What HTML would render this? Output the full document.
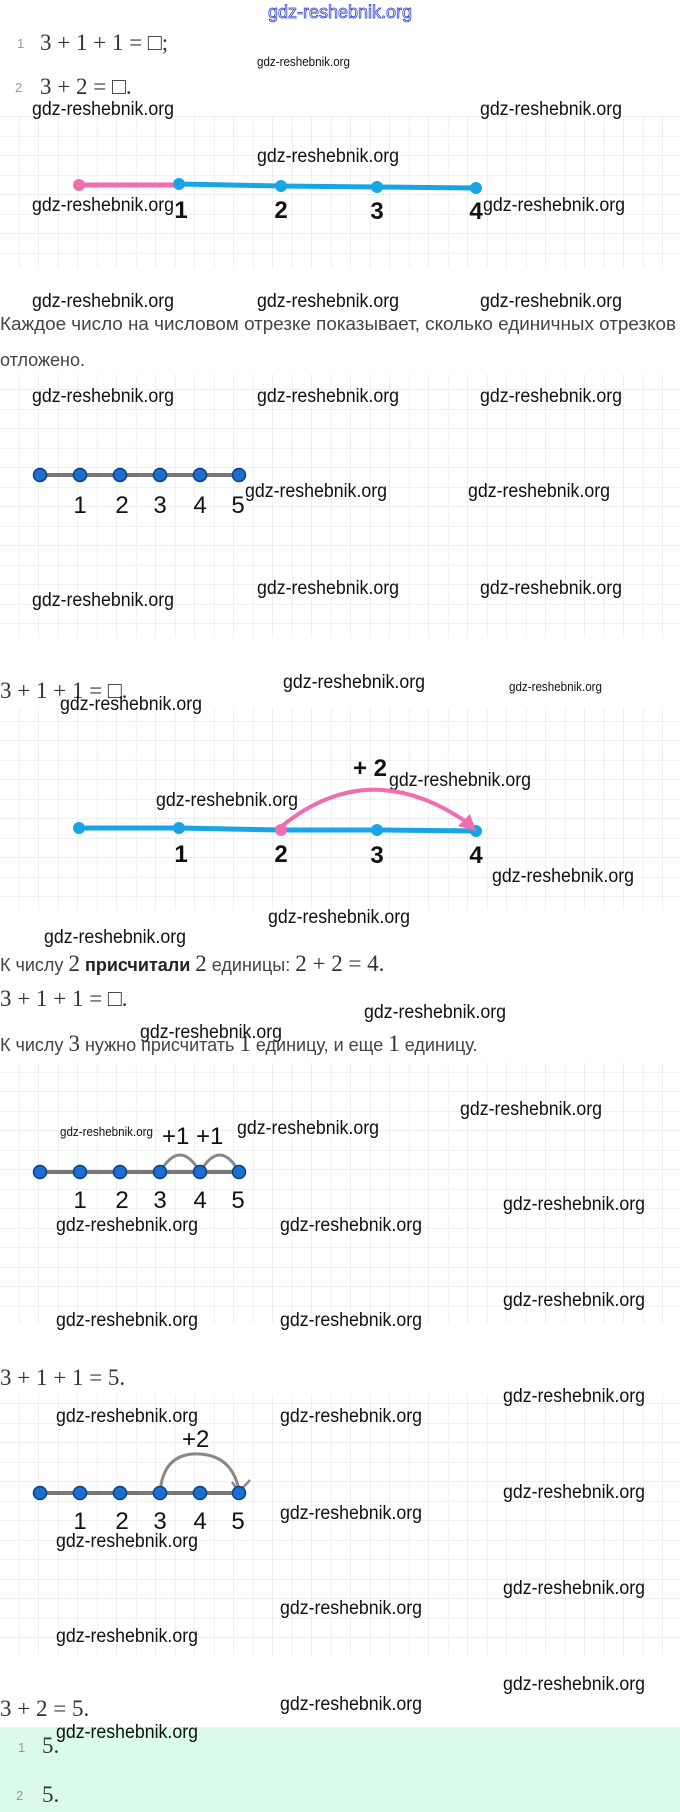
<!DOCTYPE html>
<html><head><meta charset="utf-8"><style>
body{margin:0;background:#fff}
svg{display:block}
.w{font-family:"Liberation Sans",sans-serif;font-size:19px;fill:#111}
.ws{font-family:"Liberation Sans",sans-serif;font-size:13px;fill:#111}
.m{font-family:"Liberation Serif",serif;font-size:23px;fill:#333}
.t{font-family:"Liberation Sans",sans-serif;font-size:18px;fill:#444}
.n{font-family:"Liberation Sans",sans-serif;font-size:13px;fill:#999}
.lb{font-family:"Liberation Sans",sans-serif;font-size:24px;font-weight:bold;fill:#111}
.lb2{font-family:"Liberation Sans",sans-serif;font-size:24px;fill:#111}
</style></head><body>
<svg width="680" height="1812" viewBox="0 0 680 1812" xmlns="http://www.w3.org/2000/svg">
<defs>
<pattern id="g" width="19.5" height="19.5" patternUnits="userSpaceOnUse">
<path d="M19.5 0V19.5M0 19.5H19.5" stroke="#e4e4e4" stroke-width="1.2" fill="none"/>
</pattern>
</defs>
<rect x="0" y="116" width="680" height="152" fill="url(#g)"/>
<rect x="0" y="374" width="680" height="264" fill="url(#g)"/>
<rect x="0" y="708" width="680" height="202" fill="url(#g)"/>
<rect x="0" y="1063" width="680" height="260" fill="url(#g)"/>
<rect x="0" y="1394" width="680" height="261" fill="url(#g)"/>
<rect x="0" y="1727" width="680" height="85" fill="#dafbea"/>

<text x="268" y="18" textLength="144" lengthAdjust="spacingAndGlyphs" font-family="Liberation Sans,sans-serif" font-size="18" fill="#fff" stroke="#3344cc" stroke-width="0.8">gdz-reshebnik.org</text>

<text class="n" x="17" y="48">1</text><text class="m" x="40" y="50">3 + 1 + 1 = □;</text>
<text class="ws" x="257" y="66" textLength="93" lengthAdjust="spacingAndGlyphs">gdz-reshebnik.org</text>
<text class="n" x="15" y="92">2</text><text class="m" x="40" y="94">3 + 2 = □.</text>

<!-- grid1 -->
<text class="w" x="32" y="115" textLength="142" lengthAdjust="spacingAndGlyphs">gdz-reshebnik.org</text>
<text class="w" x="480" y="115" textLength="142" lengthAdjust="spacingAndGlyphs">gdz-reshebnik.org</text>
<text class="w" x="257" y="162" textLength="142" lengthAdjust="spacingAndGlyphs">gdz-reshebnik.org</text>
<line x1="79" y1="185" x2="179" y2="185" stroke="#f06eb0" stroke-width="5"/>
<polyline points="179,184 281,186 377,187 476,188" stroke="#19a4e6" stroke-width="5" fill="none"/>
<circle cx="79" cy="185" r="6" fill="#f06eb0"/>
<circle cx="179" cy="184" r="6" fill="#19a4e6"/><circle cx="281" cy="186" r="6" fill="#19a4e6"/>
<circle cx="377" cy="187" r="6" fill="#19a4e6"/><circle cx="476" cy="188" r="6" fill="#19a4e6"/>
<text class="lb" x="181" y="218" text-anchor="middle">1</text>
<text class="lb" x="281" y="218" text-anchor="middle">2</text>
<text class="lb" x="377" y="219" text-anchor="middle">3</text>
<text class="lb" x="476" y="219" text-anchor="middle">4</text>
<text class="w" x="32" y="211" textLength="142" lengthAdjust="spacingAndGlyphs">gdz-reshebnik.org</text>
<text class="w" x="483" y="211" textLength="142" lengthAdjust="spacingAndGlyphs">gdz-reshebnik.org</text>
<text class="w" x="32" y="307" textLength="142" lengthAdjust="spacingAndGlyphs">gdz-reshebnik.org</text>
<text class="w" x="257" y="307" textLength="142" lengthAdjust="spacingAndGlyphs">gdz-reshebnik.org</text>
<text class="w" x="480" y="307" textLength="142" lengthAdjust="spacingAndGlyphs">gdz-reshebnik.org</text>
<text class="t" x="0" y="330" textLength="676" lengthAdjust="spacingAndGlyphs">Каждое число на числовом отрезке показывает, сколько единичных отрезков</text>
<text class="t" x="0" y="366">отложено.</text>

<!-- grid2 -->
<text class="w" x="32" y="402" textLength="142" lengthAdjust="spacingAndGlyphs">gdz-reshebnik.org</text>
<text class="w" x="257" y="402" textLength="142" lengthAdjust="spacingAndGlyphs">gdz-reshebnik.org</text>
<text class="w" x="480" y="402" textLength="142" lengthAdjust="spacingAndGlyphs">gdz-reshebnik.org</text>
<line x1="40" y1="475" x2="239" y2="475" stroke="#777" stroke-width="4"/>
<g fill="#1a6fd0" stroke="#0d3f80" stroke-width="1.5">
<circle cx="40" cy="475" r="6.5"/><circle cx="80" cy="475" r="6.5"/><circle cx="120" cy="475" r="6.5"/>
<circle cx="160" cy="475" r="6.5"/><circle cx="200" cy="475" r="6.5"/><circle cx="239" cy="475" r="6.5"/></g>
<g class="lb2"><text x="80" y="513" text-anchor="middle">1</text><text x="122" y="513" text-anchor="middle">2</text>
<text x="160" y="513" text-anchor="middle">3</text><text x="200" y="513" text-anchor="middle">4</text><text x="238" y="513" text-anchor="middle">5</text></g>
<text class="w" x="245" y="497" textLength="142" lengthAdjust="spacingAndGlyphs">gdz-reshebnik.org</text>
<text class="w" x="468" y="497" textLength="142" lengthAdjust="spacingAndGlyphs">gdz-reshebnik.org</text>
<text class="w" x="257" y="594" textLength="142" lengthAdjust="spacingAndGlyphs">gdz-reshebnik.org</text>
<text class="w" x="480" y="594" textLength="142" lengthAdjust="spacingAndGlyphs">gdz-reshebnik.org</text>
<text class="w" x="32" y="606" textLength="142" lengthAdjust="spacingAndGlyphs">gdz-reshebnik.org</text>

<text class="m" x="0" y="698">3 + 1 + 1 = □.</text>
<text class="w" x="283" y="688" textLength="142" lengthAdjust="spacingAndGlyphs">gdz-reshebnik.org</text>
<text class="ws" x="509" y="691" textLength="93" lengthAdjust="spacingAndGlyphs">gdz-reshebnik.org</text>
<text class="w" x="60" y="710" textLength="142" lengthAdjust="spacingAndGlyphs">gdz-reshebnik.org</text>

<!-- grid3 -->
<text class="lb" x="353" y="776" font-size="22">+ 2</text>
<text class="w" x="389" y="786" textLength="142" lengthAdjust="spacingAndGlyphs">gdz-reshebnik.org</text>
<text class="w" x="156" y="806" textLength="142" lengthAdjust="spacingAndGlyphs">gdz-reshebnik.org</text>
<polyline points="79,828 179,828 281,830 377,830 476,831" stroke="#19a4e6" stroke-width="5" fill="none"/>
<circle cx="79" cy="828" r="6" fill="#19a4e6"/><circle cx="179" cy="828" r="6" fill="#19a4e6"/>
<circle cx="377" cy="830" r="6" fill="#19a4e6"/><circle cx="476" cy="831" r="6" fill="#19a4e6"/>
<path d="M282 826 Q370 755 468 823" stroke="#f06eb0" stroke-width="4" fill="none"/>
<path d="M476 831 L458 826 L470 814 Z" fill="#f06eb0"/>
<circle cx="281" cy="830" r="6" fill="#f06eb0"/>
<text class="lb" x="181" y="862" text-anchor="middle">1</text>
<text class="lb" x="281" y="862" text-anchor="middle">2</text>
<text class="lb" x="377" y="863" text-anchor="middle">3</text>
<text class="lb" x="476" y="863" text-anchor="middle">4</text>
<text class="w" x="492" y="882" textLength="142" lengthAdjust="spacingAndGlyphs">gdz-reshebnik.org</text>
<text class="w" x="268" y="923" textLength="142" lengthAdjust="spacingAndGlyphs">gdz-reshebnik.org</text>
<text class="w" x="44" y="943" textLength="142" lengthAdjust="spacingAndGlyphs">gdz-reshebnik.org</text>
<text class="t" x="0" y="971">К числу <tspan class="m" font-size="21">2</tspan> <tspan font-weight="bold" fill="#222">присчитали</tspan> <tspan class="m" font-size="21">2</tspan> единицы: <tspan class="m" font-size="21">2 + 2 = 4.</tspan></text>
<text class="m" x="0" y="1006">3 + 1 + 1 = □.</text>
<text class="w" x="364" y="1018" textLength="142" lengthAdjust="spacingAndGlyphs">gdz-reshebnik.org</text>
<text class="w" x="140" y="1038" textLength="142" lengthAdjust="spacingAndGlyphs">gdz-reshebnik.org</text>
<text class="t" x="0" y="1051">К числу <tspan class="m" font-size="21">3</tspan> нужно присчитать <tspan class="m" font-size="21">1</tspan> единицу, и еще <tspan class="m" font-size="21">1</tspan> единицу.</text>

<!-- grid4 -->
<text class="w" x="460" y="1115" textLength="142" lengthAdjust="spacingAndGlyphs">gdz-reshebnik.org</text>
<text class="ws" x="60" y="1136" textLength="93" lengthAdjust="spacingAndGlyphs">gdz-reshebnik.org</text>
<text class="lb2" x="162" y="1144" font-size="28">+1 +1</text>
<text class="w" x="237" y="1134" textLength="142" lengthAdjust="spacingAndGlyphs">gdz-reshebnik.org</text>
<line x1="40" y1="1172" x2="239" y2="1172" stroke="#777" stroke-width="4"/>
<path d="M160 1172 Q180 1138 200 1172 Q220 1138 239 1172" stroke="#888" stroke-width="3" fill="none"/>
<g fill="#1a6fd0" stroke="#0d3f80" stroke-width="1.5">
<circle cx="40" cy="1172" r="6.5"/><circle cx="80" cy="1172" r="6.5"/><circle cx="120" cy="1172" r="6.5"/>
<circle cx="160" cy="1172" r="6.5"/><circle cx="200" cy="1172" r="6.5"/><circle cx="239" cy="1172" r="6.5"/></g>
<g class="lb2"><text x="80" y="1208" text-anchor="middle">1</text><text x="122" y="1208" text-anchor="middle">2</text>
<text x="160" y="1208" text-anchor="middle">3</text><text x="200" y="1208" text-anchor="middle">4</text><text x="238" y="1208" text-anchor="middle">5</text></g>
<text class="w" x="503" y="1210" textLength="142" lengthAdjust="spacingAndGlyphs">gdz-reshebnik.org</text>
<text class="w" x="56" y="1231" textLength="142" lengthAdjust="spacingAndGlyphs">gdz-reshebnik.org</text>
<text class="w" x="280" y="1231" textLength="142" lengthAdjust="spacingAndGlyphs">gdz-reshebnik.org</text>
<text class="w" x="503" y="1306" textLength="142" lengthAdjust="spacingAndGlyphs">gdz-reshebnik.org</text>
<text class="w" x="56" y="1326" textLength="142" lengthAdjust="spacingAndGlyphs">gdz-reshebnik.org</text>
<text class="w" x="280" y="1326" textLength="142" lengthAdjust="spacingAndGlyphs">gdz-reshebnik.org</text>
<text class="m" x="0" y="1385">3 + 1 + 1 = 5.</text>

<!-- grid5 -->
<text class="w" x="503" y="1402" textLength="142" lengthAdjust="spacingAndGlyphs">gdz-reshebnik.org</text>
<text class="w" x="56" y="1422" textLength="142" lengthAdjust="spacingAndGlyphs">gdz-reshebnik.org</text>
<text class="w" x="280" y="1422" textLength="142" lengthAdjust="spacingAndGlyphs">gdz-reshebnik.org</text>
<text class="lb2" x="182" y="1447" font-size="30">+2</text>
<line x1="40" y1="1493" x2="239" y2="1493" stroke="#777" stroke-width="4"/>
<path d="M160 1493 Q163 1452 200 1454 Q232 1456 239 1490" stroke="#888" stroke-width="3" fill="none"/>
<path d="M232 1482 L239 1492 L250 1480" stroke="#888" stroke-width="2.5" fill="none"/>
<g fill="#1a6fd0" stroke="#0d3f80" stroke-width="1.5">
<circle cx="40" cy="1493" r="6.5"/><circle cx="80" cy="1493" r="6.5"/><circle cx="120" cy="1493" r="6.5"/>
<circle cx="160" cy="1493" r="6.5"/><circle cx="200" cy="1493" r="6.5"/><circle cx="239" cy="1493" r="6.5"/></g>
<g class="lb2"><text x="80" y="1529" text-anchor="middle">1</text><text x="122" y="1529" text-anchor="middle">2</text>
<text x="160" y="1529" text-anchor="middle">3</text><text x="200" y="1529" text-anchor="middle">4</text><text x="238" y="1529" text-anchor="middle">5</text></g>
<text class="w" x="503" y="1498" textLength="142" lengthAdjust="spacingAndGlyphs">gdz-reshebnik.org</text>
<text class="w" x="280" y="1519" textLength="142" lengthAdjust="spacingAndGlyphs">gdz-reshebnik.org</text>
<text class="w" x="56" y="1547" textLength="142" lengthAdjust="spacingAndGlyphs">gdz-reshebnik.org</text>
<text class="w" x="503" y="1594" textLength="142" lengthAdjust="spacingAndGlyphs">gdz-reshebnik.org</text>
<text class="w" x="280" y="1614" textLength="142" lengthAdjust="spacingAndGlyphs">gdz-reshebnik.org</text>
<text class="w" x="56" y="1642" textLength="142" lengthAdjust="spacingAndGlyphs">gdz-reshebnik.org</text>
<text class="w" x="503" y="1690" textLength="142" lengthAdjust="spacingAndGlyphs">gdz-reshebnik.org</text>
<text class="w" x="280" y="1710" textLength="142" lengthAdjust="spacingAndGlyphs">gdz-reshebnik.org</text>
<text class="m" x="0" y="1716">3 + 2 = 5.</text>

<text class="n" x="18" y="1752">1</text><text class="m" x="42" y="1753">5.</text>
<text class="w" x="56" y="1738" textLength="142" lengthAdjust="spacingAndGlyphs">gdz-reshebnik.org</text>
<text class="n" x="16" y="1800">2</text><text class="m" x="42" y="1802">5.</text>
</svg>
</body></html>
